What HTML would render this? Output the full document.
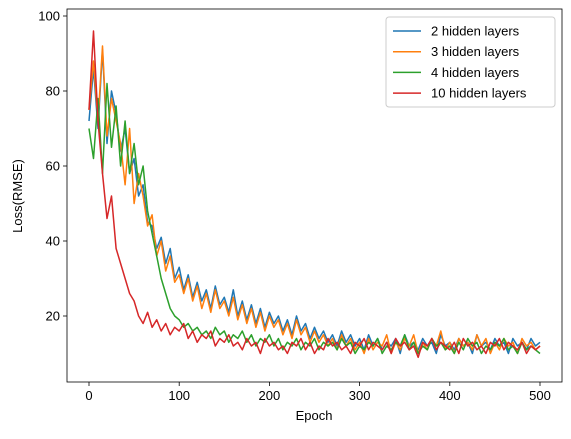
<!DOCTYPE html>
<html><head><meta charset="utf-8"><style>
body{margin:0;background:#fff}
svg text{font-family:"Liberation Sans","DejaVu Sans",sans-serif;font-size:13px;fill:#000}
</style></head><body>
<svg id="chart" width="571" height="434">
<rect x="67" y="9" width="495" height="373" fill="none" stroke="#000" stroke-width="0.8"/>
<g id="axes"></g>
<g id="series"></g>
<text x="314" y="420" text-anchor="middle">Epoch</text>
<text x="22" y="196" text-anchor="middle" transform="rotate(-90 22 196)">Loss(RMSE)</text>
<g id="legend"></g>
</svg>
<script>
const xTicks=[0,100,200,300,400,500];
const yTicks=[20,40,60,80,100];
const seriesNames=["2 hidden layers","3 hidden layers","4 hidden layers","10 hidden layers"];
const seriesColors=["#1f77b4","#ff7f0e","#2ca02c","#d62728"];
const epochStep=5;
const blue=[72,86,70,91,66,80,74,64,70,58,62,52,55,45,44,38,41,34,38,30,33,27,31,25,29,24,27,22,28,23,25,21,27,20,24,19,23,18,22,17,21,18,20,16,19,15,20,16,18,14,17,14,16,13,15,12,16,13,15,12,14,11,15,12,14,11,13,12,14,10,15,12,13,11,14,12,13,10,15,12,13,11,14,12,13,10,15,12,13,11,14,12,13,10,14,12,13,11,14,12,13];
const orange=[75,88,72,92,68,78,72,66,55,70,50,58,52,44,47,36,40,32,36,29,31,26,30,24,28,22,26,21,27,22,24,20,25,19,23,18,22,17,21,16,20,17,19,15,18,14,19,15,17,13,16,13,15,12,14,11,15,12,14,11,13,10,14,11,13,12,15,10,13,11,14,12,15,10,13,11,14,12,16,11,13,10,14,12,13,11,15,12,14,10,13,11,14,12,13,10,14,12,13,11,12];
const green=[70,62,78,58,82,65,76,60,72,58,66,55,60,48,42,36,30,26,22,20,19,17,18,16,17,15,16,14,17,15,16,13,15,14,16,13,15,12,14,13,15,12,14,11,13,12,14,11,13,12,14,11,13,12,13,11,14,12,13,10,12,11,13,12,14,10,12,11,13,12,15,11,13,10,12,11,14,12,13,11,12,10,13,11,14,12,13,10,12,11,13,12,14,11,12,10,13,11,12,11,10];
const red=[75,96,72,58,46,52,38,34,30,26,24,20,18,21,17,19,16,18,15,17,16,18,14,16,13,15,14,16,12,14,13,15,12,13,11,14,12,13,10,14,12,13,11,12,10,13,12,14,11,13,10,12,11,14,12,13,11,12,10,13,12,14,11,13,12,11,13,10,14,12,13,11,12,9,13,12,14,11,13,12,11,13,10,14,12,13,11,12,10,13,12,14,11,13,12,11,13,10,12,11,12];
const seriesData=[blue,orange,green,red];
const NS="http://www.w3.org/2000/svg";
const xs=v=>89+v*0.902;
const ys=v=>391-v*3.75;
const axes=document.getElementById('axes');
function mk(tag,attrs,parent){const e=document.createElementNS(NS,tag);for(const k in attrs)e.setAttribute(k,attrs[k]);parent.appendChild(e);return e;}
xTicks.forEach(t=>{
  const l=mk('line',{x1:xs(t),x2:xs(t),y1:382,y2:386,stroke:'#000','stroke-width':0.8},axes);
  
  
  const tx=mk('text',{x:xs(t),y:400,'text-anchor':'middle'},axes);tx.textContent=t;
  
  
});
yTicks.forEach(t=>{
  const l=mk('line',{x1:63,x2:67,y1:ys(t),y2:ys(t),stroke:'#000','stroke-width':0.8},axes);
  
  
  const tx=mk('text',{x:60,y:ys(t)+4.5,'text-anchor':'end'},axes);tx.textContent=t;
  
  
});
const sg=document.getElementById('series');
seriesData.forEach((arr,si)=>{
  const pts=arr.map((v,i)=>xs(i*epochStep).toFixed(1)+','+ys(v).toFixed(1)).join(' ');
  const p=mk('polyline',{points:pts,fill:'none',stroke:seriesColors[si],'stroke-width':1.5,'stroke-linejoin':'round'},sg);
  
  
});
const lg=document.getElementById('legend');
const box=mk('rect',{x:386,y:17,width:169,height:90,rx:3,fill:'#fff','fill-opacity':0.8,stroke:'#ccc'},lg);


seriesNames.forEach((n,i)=>{
  const y=31+i*20.7;
  const l=mk('line',{x1:393,x2:421,y1:y,y2:y,stroke:seriesColors[i],'stroke-width':1.5},lg);
  
  
  const t=mk('text',{x:431,y:y+4.5},lg);t.textContent=n;
  
  
});
</script>
</body></html>
